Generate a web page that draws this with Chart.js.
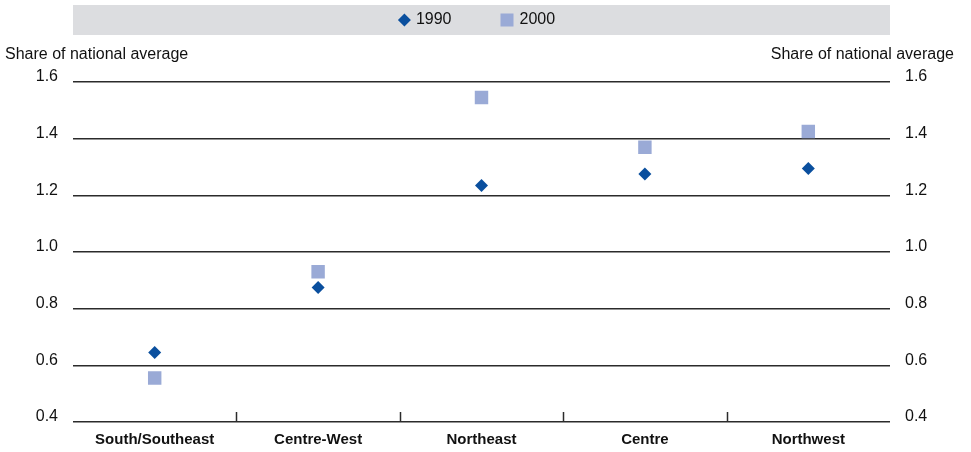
<!DOCTYPE html>
<html>
<head>
<meta charset="utf-8">
<script src="https://cdn.jsdelivr.net/npm/chart.js@4.4.1/dist/chart.umd.min.js"></script>
<style>
  html, body { margin: 0; padding: 0; background: #fff; }
  #wrap { width: 971px; height: 452px; position: relative; }
</style>
</head>
<body>
<div id="wrap"><canvas id="chart"></canvas></div>
<script>
// regions and values (share of national average)
const regioes = ['South/Southeast', 'Centre-West', 'Northeast', 'Centre', 'Northwest'];
const valores1990 = [0.645, 0.875, 1.235, 1.275, 1.295];
const valores2000 = [0.555, 0.93, 1.545, 1.37, 1.425];
const series = ['1990', '2000'];
const tituloEixo = 'Share of national average';

const azul = '#0a4f9e';
const lilas = '#9aaad6';
const fonte = '"Liberation Sans", Arial, Helvetica, sans-serif';

// legenda cinza, titulos dos eixos e tracinhos entre categorias
const moldura = {
    id: 'moldura',
    beforeDraw(chart) {
        const { ctx, chartArea } = chart;
        ctx.save();
        ctx.fillStyle = '#dcdde0';
        ctx.fillRect(chartArea.left, 5, chartArea.right - chartArea.left, 30);

        ctx.font = '16px ' + fonte;
        ctx.textBaseline = 'middle';
        const w1 = ctx.measureText(series[0]).width;
        const w2 = ctx.measureText(series[1]).width;
        const total = 18 + w1 + 49 + 19 + w2;
        let x = (chartArea.left + chartArea.right) / 2 - total / 2 - 5;
        const y = 20;
        // diamante
        ctx.fillStyle = azul;
        ctx.beginPath();
        ctx.moveTo(x + 6.5, y - 6.5);
        ctx.lineTo(x + 13, y);
        ctx.lineTo(x + 6.5, y + 6.5);
        ctx.lineTo(x, y);
        ctx.closePath();
        ctx.fill();
        ctx.fillStyle = '#111';
        ctx.fillText(series[0], x + 18, y);
        x += 18 + w1 + 49;
        ctx.fillStyle = lilas;
        ctx.fillRect(x, y - 6.5, 13, 13);
        ctx.fillStyle = '#111';
        ctx.fillText(series[1], x + 19, y);

        ctx.fillText(tituloEixo, 5, 55);
        ctx.textAlign = 'right';
        ctx.fillText(tituloEixo, 954, 55);
        ctx.restore();
    },
    afterDraw(chart) {
        const { ctx, chartArea, scales } = chart;
        const xs = scales.x;
        ctx.save();
        ctx.strokeStyle = '#2b2b2b';
        ctx.lineWidth = 1.5;
        for (let i = 0; i < regioes.length - 1; i++) {
            const px = Math.round((xs.getPixelForValue(i) + xs.getPixelForValue(i + 1)) / 2) + 0.5;
            ctx.beginPath();
            ctx.moveTo(px, chartArea.bottom);
            ctx.lineTo(px, chartArea.bottom - 10);
            ctx.stroke();
        }
        ctx.restore();
    }
};

const ctx = document.getElementById('chart');
const chart = new Chart(ctx, {
    type: 'line',
    data: {
        labels: regioes,
        datasets: [{
            label: series[0],
            data: valores1990,
            showLine: false,
            pointStyle: 'rectRot',
            pointRadius: 6.5,
            pointHoverRadius: 6.5,
            backgroundColor: azul,
            borderColor: azul,
            borderWidth: 0,
            yAxisID: 'y'
        },
        {
            label: series[1],
            data: valores2000,
            showLine: false,
            pointStyle: 'rect',
            pointRadius: 9.5,
            pointHoverRadius: 9.5,
            backgroundColor: lilas,
            borderColor: lilas,
            borderWidth: 0,
            yAxisID: 'y'
        }]
    },
    options: {
        responsive: true,
        maintainAspectRatio: false,
        animation: false,
        layout: { padding: { top: 82, bottom: 4, left: 0, right: 0 } },
        plugins: {
            legend: { display: false },
            tooltip: { enabled: false }
        },
        scales: {
            x: {
                offset: true,
                afterFit: (s) => { s.height = 26; },
                grid: { display: false, drawTicks: false },
                border: { display: false },
                ticks: {
                    color: '#111',
                    padding: 9,
                    font: { family: fonte, size: 15, weight: 'bold' }
                }
            },
            y: {
                position: 'left',
                min: 0.4,
                max: 1.6,
                afterFit: (s) => { s.width = 73; },
                grid: { color: '#2b2b2b', lineWidth: 1.5, drawTicks: false },
                border: { display: false },
                ticks: {
                    stepSize: 0.2,
                    padding: 15,
                    labelOffset: -5,
                    color: '#111',
                    font: { family: fonte, size: 16 },
                    callback: (v) => v.toFixed(1)
                }
            },
            y2: {
                position: 'right',
                min: 0.4,
                max: 1.6,
                afterFit: (s) => { s.width = 81; },
                grid: { drawOnChartArea: false, drawTicks: false },
                border: { display: false },
                ticks: {
                    stepSize: 0.2,
                    padding: 15,
                    labelOffset: -5,
                    color: '#111',
                    font: { family: fonte, size: 16 },
                    callback: (v) => v.toFixed(1)
                }
            }
        }
    },
    plugins: [moldura]
});
</script>
</body>
</html>
